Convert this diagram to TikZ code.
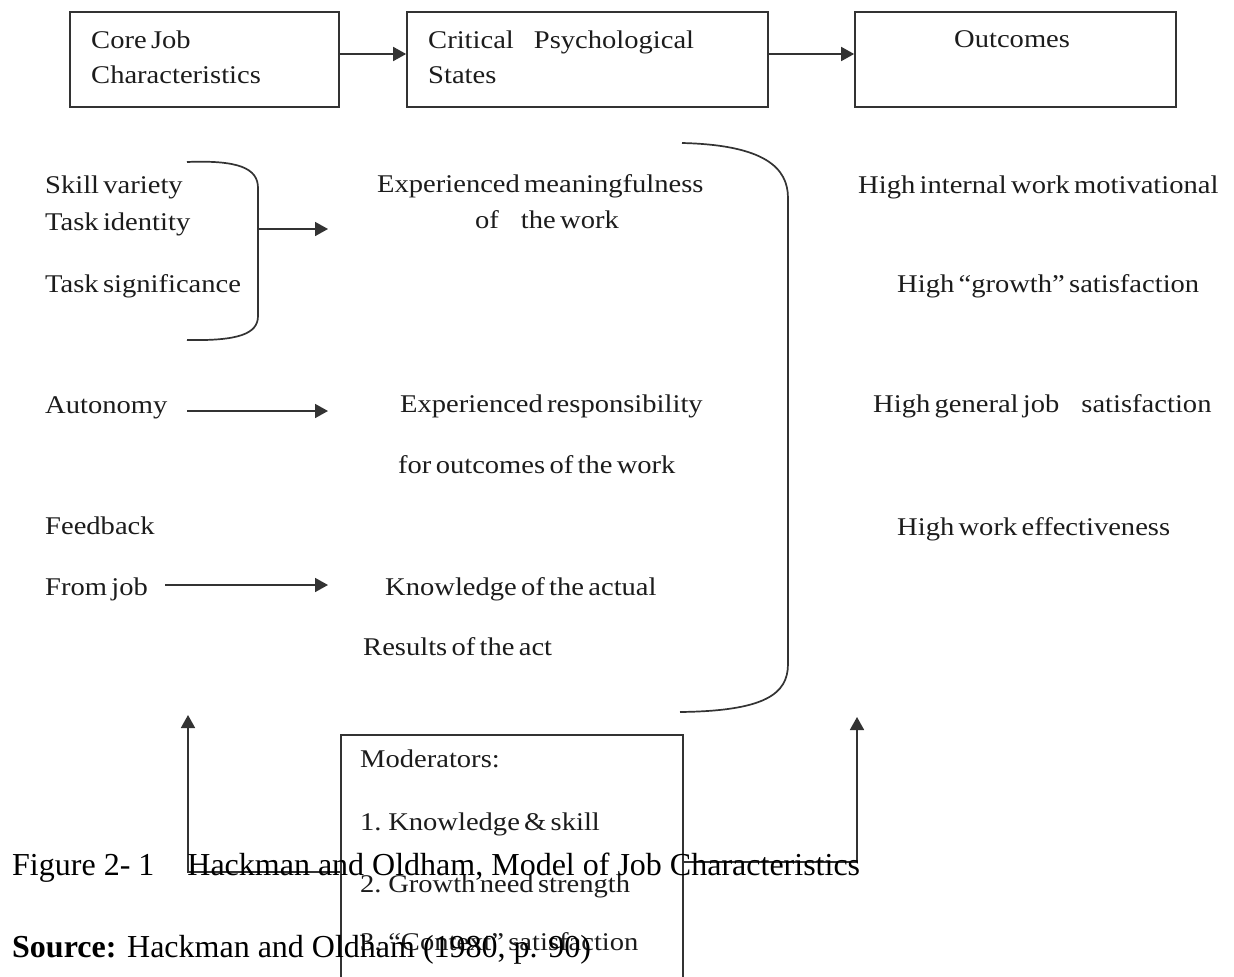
\documentclass[tikz,border=0pt]{standalone}
\usepackage{fontspec}
\setmainfont{Liberation Serif}
\newfontfamily\dfont[FakeStretch=1.12,WordSpace=0.6]{Liberation Serif}
\usetikzlibrary{arrows.meta}
\definecolor{dtext}{HTML}{1C1C1C}
\definecolor{dline}{HTML}{333333}
\begin{document}
\begin{tikzpicture}[x=1pt,y=-1pt,
  boxst/.style={draw=dline,line width=1.7pt,inner sep=0pt},
  dlabel/.style={anchor=base west,inner sep=0pt,text=dtext,font=\dfont\fontsize{25.5}{30}\selectfont},
  caplabel/.style={anchor=base west,inner sep=0pt,text=black,font=\fontsize{32}{38}\selectfont},
  arr/.style={draw=dline,line width=1.7pt,-{Triangle[length=13pt,width=14pt]}},
  brace/.style={draw=dline,line width=1.7pt}]
\clip (0,0) rectangle (1234,977);
\fill[white] (0,0) rectangle (1234,977);

% top boxes
\node[boxst,minimum width=269pt,minimum height=95pt] (b1) at (204.5,59.5) {};
\node[boxst,minimum width=361pt,minimum height=95pt] (b2) at (587.5,59.5) {};
\node[boxst,minimum width=321pt,minimum height=95pt] (b3) at (1015.5,59.5) {};
\node[dlabel] (t1a) at (91,48) {Core Job};
\node[dlabel] (t1b) at (91,83) {Characteristics};
\node[dlabel] (t2a) at (428,48) {Critical\hspace{20pt}Psychological};
\node[dlabel] (t2b) at (428,83) {States};
\node[dlabel] (t3a) at (954,47) {Outcomes};
\coordinate (ay) at (0,54);
\draw[arr] (b1.east |- ay) -- (b2.west |- ay);
\draw[arr] (b2.east |- ay) -- (b3.west |- ay);

% left column
\node[dlabel] (sv) at (45,193) {Skill variety};
\node[dlabel] (ti) at (45,230) {Task identity};
\node[dlabel] (ts) at (45,292) {Task significance};
\node[dlabel] (au) at (45,413) {Autonomy};
\node[dlabel] (fb) at (45,534) {Feedback};
\node[dlabel] (fj) at (45,595) {From job};

% small brace
\draw[brace] (187,162) .. controls (238,160) and (258,168) .. (258,188) -- (258,316) .. controls (258,334) and (238,341) .. (187,340);
\coordinate (br1) at (258,229);
\coordinate (m1) at (328,229);
\draw[arr] (br1) -- (m1);
\coordinate (au1) at (187,411);
\coordinate (m2) at (328,411);
\draw[arr] (au1) -- (m2);
\coordinate (fj1) at (165,585);
\coordinate (m3) at (328,585);
\draw[arr] (fj1) -- (m3);

% middle column
\node[dlabel] (em1) at (377,192) {Experienced meaningfulness};
\node[dlabel] (em2) at (475,228) {of\hspace{22pt}the work};
\node[dlabel] (er1) at (400,412) {Experienced responsibility};
\node[dlabel] (er2) at (398,473) {for outcomes of the work};
\node[dlabel] (kn1) at (385,595) {Knowledge of the actual};
\node[dlabel] (kn2) at (363,655) {Results of the act};

% big brace
\draw[brace] (682,143) .. controls (765,145) and (788,168) .. (788,198) -- (788,664) .. controls (788,694) and (765,711) .. (680,712);

% right column
\node[dlabel] (o1) at (858,193) {High internal work motivational};
\node[dlabel] (o2) at (897,292) {High “growth” satisfaction};
\node[dlabel] (o3) at (873,412) {High general job\hspace{22pt}satisfaction};
\node[dlabel] (o4) at (897,535) {High work effectiveness};

% moderators
\node[boxst,minimum width=342pt,minimum height=280pt,anchor=north west] (mod) at (340,734) {};
\node[dlabel] (md0) at (360,767) {Moderators:};
\node[dlabel] (md1) at (360,830) {1. Knowledge \& skill};
\node[dlabel] (md2) at (360,892) {2. Growth need strength};
\node[dlabel] (md3) at (360,950) {3. “Context” satisfaction};
\coordinate (ly) at (0,872);
\coordinate (ry) at (0,862);
\coordinate (lup) at (188,715);
\coordinate (rup) at (857,717);
\draw[arr] (mod.west |- ly) -| (lup);
\draw[arr] (mod.east |- ry) -| (rup);

% caption
\node[caplabel] (cap) at (12,875) {Figure 2- 1\hspace{33pt}Hackman and Oldham, Model of Job Characteristics};
\node[caplabel] (src) at (12,957) {\textbf{Source:} Hackman and Oldham (1980, p. 90)};
\end{tikzpicture}
\end{document}
